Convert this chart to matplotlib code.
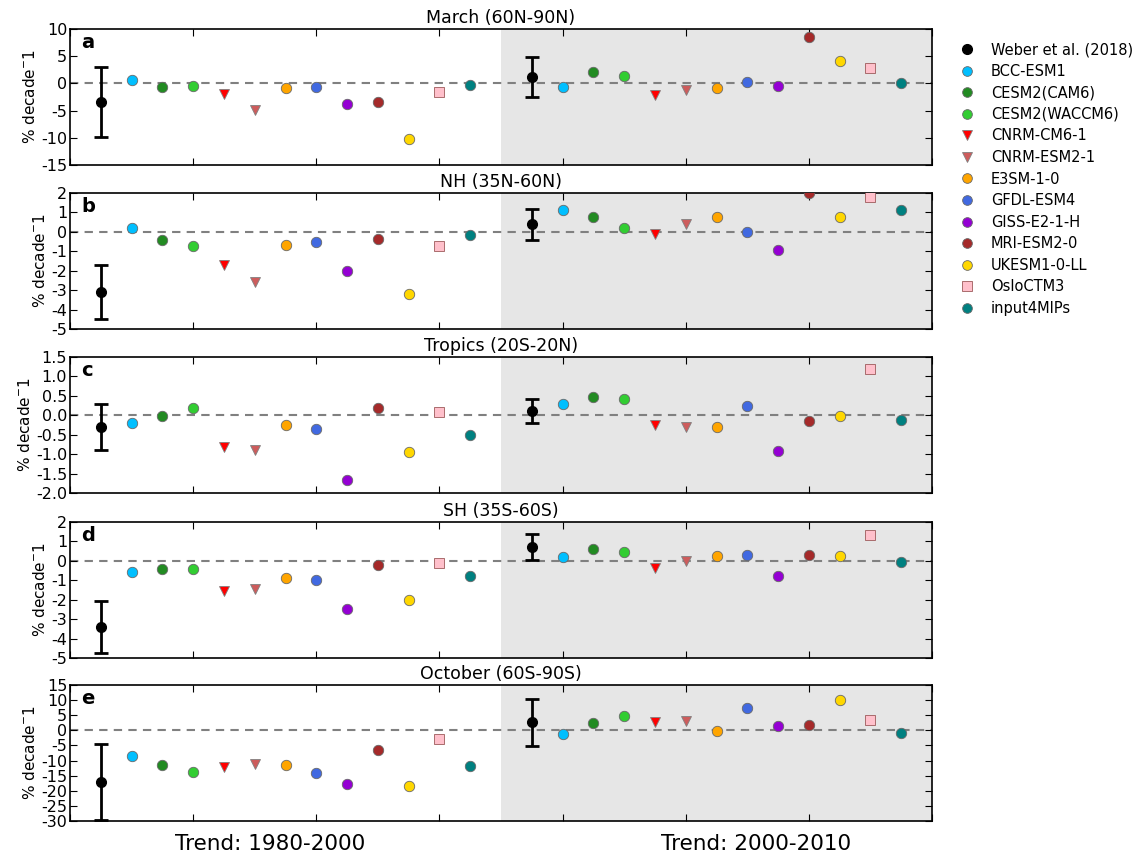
import matplotlib
matplotlib.use('Agg')
import matplotlib.pyplot as plt
from matplotlib.lines import Line2D
import numpy as np

# model names and styles
models = ['BCC-ESM1', 'CESM2(CAM6)', 'CESM2(WACCM6)', 'CNRM-CM6-1', 'CNRM-ESM2-1',
          'E3SM-1-0', 'GFDL-ESM4', 'GISS-E2-1-H', 'MRI-ESM2-0', 'UKESM1-0-LL',
          'OsloCTM3', 'input4MIPs']
colors = ['deepskyblue', 'forestgreen', 'limegreen', 'red', 'indianred',
          'orange', 'royalblue', 'darkviolet', 'brown', 'gold', 'pink', 'teal']
markers = ['o', 'o', 'o', 'v', 'v', 'o', 'o', 'o', 'o', 'o', 's', 'o']

regions = ['March (60N-90N)', 'NH (35N-60N)', 'Tropics (20S-20N)', 'SH (35S-60S)', 'October (60S-90S)']
letters = ['a', 'b', 'c', 'd', 'e']

# Weber et al. (2018) observed trends: mean and error, for 1980-2000 and 2000-2010
weber_p1 = [-3.4, -3.1, -0.3, -3.4, -17.1]
weber_p1_err = [6.4, 1.4, 0.6, 1.32, 12.5]
weber_p2 = [1.15, 0.4, 0.11, 0.7, 2.6]
weber_p2_err = [3.65, 0.8, 0.31, 0.68, 7.85]

# model trends 1980-2000
march_p1 = [0.6, -0.7, -0.4, -2.0, -4.9, -0.85, -0.7, -3.7, -3.4, -10.2, -1.6, -0.35]
nh_p1 = [0.2, -0.4, -0.75, -1.7, -2.6, -0.7, -0.5, -2.0, -0.35, -3.2, -0.75, -0.15]
trop_p1 = [-0.21, -0.03, 0.19, -0.81, -0.9, -0.25, -0.36, -1.66, 0.18, -0.95, 0.09, -0.5]
sh_p1 = [-0.56, -0.44, -0.44, -1.57, -1.43, -0.89, -0.99, -2.48, -0.19, -2.03, -0.1, -0.8]
oct_p1 = [-8.5, -11.4, -13.8, -12.0, -11.0, -11.4, -14.0, -17.9, -6.35, -18.5, -2.85, -11.7]

# model trends 2000-2010
march_p2 = [-0.7, 2.05, 1.3, -2.2, -1.3, -0.85, 0.25, -0.4, 8.6, 4.1, 2.8, 0.0]
nh_p2 = [1.1, 0.75, 0.2, -0.1, 0.4, 0.75, 0.0, -0.95, 2.0, 0.75, 1.8, 1.1]
trop_p2 = [0.3, 0.46, 0.42, -0.25, -0.3, -0.29, 0.25, -0.93, -0.15, -0.02, 1.18, -0.12]
sh_p2 = [0.19, 0.6, 0.44, -0.36, 0.0, 0.24, 0.29, -0.8, 0.32, 0.24, 1.32, -0.08]
oct_p2 = [-1.3, 2.4, 4.7, 2.6, 3.2, -0.2, 7.3, 1.5, 1.6, 9.9, 3.5, -1.0]

p1_data = [march_p1, nh_p1, trop_p1, sh_p1, oct_p1]
p2_data = [march_p2, nh_p2, trop_p2, sh_p2, oct_p2]

ylims = [(-15, 10), (-5, 2), (-2, 1.5), (-5, 2), (-30, 15)]
ysteps = [5, 1, 0.5, 1, 5]

def edge_col(m):
    if m == 's':
        return '#9c5a5a'
    if m == 'v':
        return 'gray'
    return 'dimgray'

W, H = 1137, 857
fig = plt.figure(figsize=(W/100, H/100), dpi=100)
tops = [29, 193, 357, 522, 685]
axh = 136

axes = []
for i in range(5):
    ax = fig.add_axes([70/W, 1 - (tops[i]+axh)/H, 862/W, axh/H])
    axes.append(ax)
    ax.axvspan(14, 28, color='#e6e6e6', zorder=0, lw=0)
    ax.axhline(0, color='gray', lw=1.5, dashes=(4, 3), zorder=1)

    ax.errorbar(1, weber_p1[i], yerr=weber_p1_err[i], fmt='o', color='k', ms=7,
                elinewidth=2, capsize=5, capthick=2, zorder=3)
    ax.errorbar(15, weber_p2[i], yerr=weber_p2_err[i], fmt='o', color='k', ms=7,
                elinewidth=2, capsize=5, capthick=2, zorder=3)

    for j in range(len(models)):
        ms = 7.5 if markers[j] == 'o' else 7
        ax.plot(2 + j, p1_data[i][j], marker=markers[j], color=colors[j],
                mec=edge_col(markers[j]), mew=0.6, ms=ms, ls='none', zorder=4)
        ax.plot(16 + j, p2_data[i][j], marker=markers[j], color=colors[j],
                mec=edge_col(markers[j]), mew=0.6, ms=ms, ls='none', zorder=4)

    ax.set_xlim(0, 28)
    ax.set_ylim(*ylims[i])
    ax.set_xticks(np.arange(0, 29, 4))
    ax.set_xticklabels([])
    ax.set_yticks(np.arange(ylims[i][0], ylims[i][1] + ysteps[i]/2, ysteps[i]))
    if ysteps[i] < 1:
        ax.yaxis.set_major_formatter(matplotlib.ticker.FormatStrFormatter('%.1f'))
    else:
        ax.yaxis.set_major_formatter(matplotlib.ticker.FormatStrFormatter('%d'))
    ax.tick_params(direction='in', top=True, right=True, length=5, labelsize=11.5, pad=2)
    ax.set_ylabel('% decade$^{-}$1', fontsize=11, labelpad=2)
    ax.set_title(regions[i], fontsize=12.5, pad=4)
    ax.text(0.013, 0.9, letters[i], transform=ax.transAxes, fontsize=14,
            fontweight='bold', va='center', ha='left')
    for s in ax.spines.values():
        s.set_linewidth(1.2)

axes[-1].text(6.5, -0.17, 'Trend: 1980-2000', transform=axes[-1].get_xaxis_transform(),
              ha='center', va='center', fontsize=15.5)
axes[-1].text(22.3, -0.17, 'Trend: 2000-2010', transform=axes[-1].get_xaxis_transform(),
              ha='center', va='center', fontsize=15.5)

# legend handles: Weber as plain black dot, then models
handles = [Line2D([], [], marker='o', color='k', ls='none', ms=7)]
labels = ['Weber et al. (2018)']
for j in range(len(models)):
    handles.append(Line2D([], [], marker=markers[j], color=colors[j], mec=edge_col(markers[j]),
                          mew=0.6, ms=7, ls='none'))
    labels.append(models[j])
fig.legend(handles, labels, loc='upper left', bbox_to_anchor=(943/W, 1 - 29/H),
           frameon=False, fontsize=10.5, numpoints=1, labelspacing=0.45,
           handletextpad=0.9, handlelength=1.5)

fig.savefig('out.png', dpi=100)
